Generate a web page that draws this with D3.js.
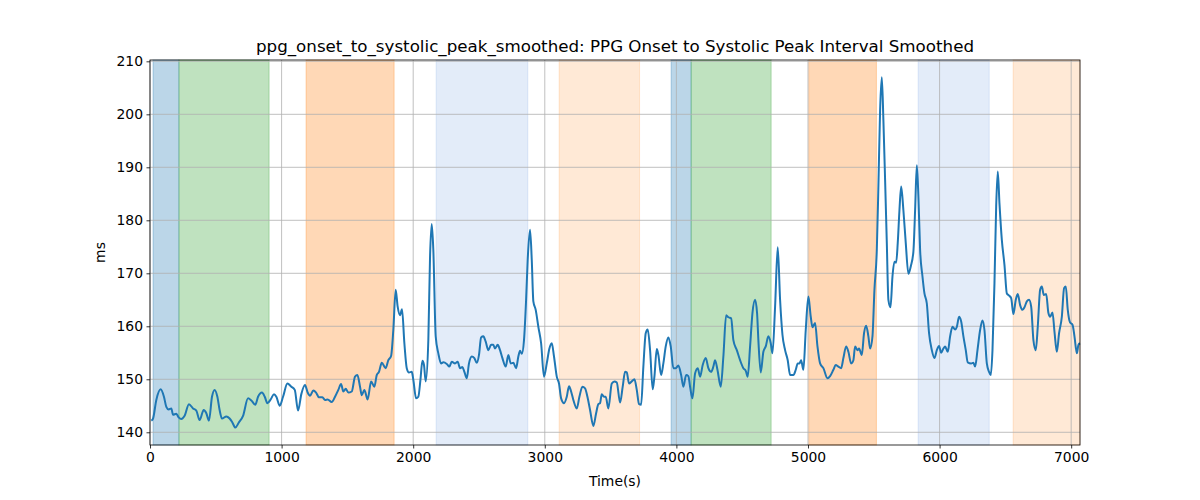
<!DOCTYPE html>
<html>
<head>
<meta charset="utf-8">
<script src="https://cdn.jsdelivr.net/npm/d3@7"></script>
<style>
  html, body { margin: 0; padding: 0; background: #fff; }
  svg { display: block; font-family: "DejaVu Sans", sans-serif; }
</style>
</head>
<body>
<svg id="chart" width="1200" height="500"></svg>
<script>
// ---- data ----
const title = "ppg_onset_to_systolic_peak_smoothed: PPG Onset to Systolic Peak Interval Smoothed";
const xLabel = "Time(s)";
const yLabel = "ms";
const xTicks = [0, 1000, 2000, 3000, 4000, 5000, 6000, 7000];
const yTicks = [140, 150, 160, 170, 180, 190, 200, 210];
const xDomain = [0, 7067];
const yDomain = [137.6, 210.25];

const bandStart = [23, 220, 1186, 2174, 3109, 3960, 4112, 5006, 5837, 6559];
const bandEnd   = [220, 905, 1855, 2871, 3720, 4112, 4720, 5520, 6377, 7067];
const bandKind  = ["blue", "green", "orange", "lightblue", "lightorange",
                   "blue", "green", "orange", "lightblue", "lightorange"];

const times = [
  10, 23, 48, 81, 106, 124, 142, 162, 175, 200, 218, 238, 263, 296, 327, 352, 377, 408, 428, 448,
  471, 491, 512, 529, 547, 580, 605, 623, 649, 674, 707, 745, 770, 800, 821, 851, 872, 892, 917, 942,
  960, 986, 1011, 1044, 1074, 1100, 1125, 1150, 1178, 1198, 1216, 1241, 1262, 1284, 1310, 1330, 1350, 1381,
  1406, 1431, 1452, 1469, 1487, 1507, 1533, 1558, 1576, 1596, 1609, 1629, 1654, 1680, 1705, 1723, 1740,
  1761, 1791, 1811, 1832, 1849, 1867, 1882, 1900, 1915, 1933, 1951, 1968, 1989, 2001, 2022, 2039, 2055,
  2070, 2082, 2095, 2115, 2128, 2141, 2153, 2171, 2191, 2212, 2229, 2255, 2275, 2293, 2318, 2338, 2356,
  2374, 2389, 2407, 2424, 2445, 2465, 2483, 2500, 2516, 2533, 2551, 2571, 2592, 2609, 2622, 2642, 2660,
  2678, 2703, 2723, 2741, 2761, 2782, 2799, 2812, 2825, 2842, 2858, 2870, 2888, 2901, 2913, 2931, 2951,
  2972, 2994, 3015, 3035, 3053, 3070, 3091, 3108, 3124, 3146, 3167, 3184, 3200, 3217, 3243, 3263, 3286,
  3306, 3324, 3344, 3369, 3390, 3407, 3420, 3433, 3450, 3463, 3483, 3509, 3529, 3547, 3572, 3592, 3610,
  3623, 3640, 3661, 3681, 3699, 3716, 3732, 3749, 3767, 3782, 3800, 3820, 3833, 3851, 3863, 3884, 3901,
  3919, 3939, 3957, 3977, 3995, 4015, 4036, 4053, 4074, 4091, 4104, 4122, 4142, 4162, 4180, 4200, 4223,
  4243, 4264, 4281, 4294, 4312, 4337, 4357, 4378, 4395, 4416, 4433, 4459, 4484, 4509, 4527, 4542, 4560,
  4578, 4598, 4613, 4623, 4641, 4661, 4679, 4699, 4717, 4730, 4750, 4770, 4788, 4806, 4826, 4846, 4864,
  4889, 4907, 4922, 4935, 4948, 4965, 4983, 5003, 5021, 5034, 5054, 5072, 5092, 5117, 5148, 5168, 5193,
  5211, 5231, 5252, 5269, 5290, 5307, 5328, 5345, 5358, 5376, 5388, 5409, 5426, 5442, 5459, 5472, 5490,
  5505, 5523, 5535, 5548, 5561, 5573, 5586, 5599, 5611, 5627, 5642, 5657, 5670, 5682, 5695, 5708, 5725,
  5743, 5763, 5781, 5801, 5814, 5827, 5839, 5852, 5870, 5885, 5903, 5920, 5941, 5961, 5979, 5996, 6012,
  6029, 6042, 6062, 6080, 6098, 6118, 6131, 6148, 6164, 6181, 6199, 6214, 6240, 6257, 6270, 6288, 6308,
  6326, 6341, 6359, 6376, 6389, 6402, 6417, 6430, 6442, 6455, 6473, 6493, 6511, 6528, 6544, 6561, 6579,
  6594, 6612, 6630, 6645, 6663, 6680, 6696, 6713, 6731, 6746, 6764, 6777, 6792, 6810, 6827, 6840, 6858,
  6873, 6891, 6908, 6929, 6946, 6959, 6974, 6992, 7010, 7025, 7043, 7055, 7067
];
const values = [
  142.2, 142.6, 146.1, 148.1, 146.7, 144.8, 144.3, 144.5, 143.3, 143.5, 142.8, 142.5, 143.1, 145.3, 144.5, 144.1, 142.3, 144.2, 143.6, 142.2,
  146.7, 148.0, 146.7, 144.2, 142.6, 143.0, 142.6, 142.0, 140.9, 141.8, 143.1, 146.4, 146.0, 145.2, 146.7, 147.5, 146.7, 145.5, 146.2, 147.2,
  146.7, 145.0, 146.7, 149.2, 148.6, 148.0, 144.1, 147.2, 148.9, 147.5, 146.9, 147.9, 147.5, 146.6, 146.6, 146.1, 146.2, 145.7,
  146.7, 148.0, 149.1, 147.7, 148.2, 147.5, 147.7, 150.5, 150.8, 148.6, 147.0, 148.0, 146.2, 149.6, 148.6, 150.8, 151.4,
  153.1, 152.1, 153.6, 154.4, 159.3, 166.9, 163.7, 162.1, 163.2, 156.8, 152.1, 151.3, 151.4, 149.9, 146.4, 146.7, 149.9,
  153.5, 152.7, 149.6, 157.4, 173.1, 179.3, 174.4, 158.1, 154.9, 153.0, 153.2, 152.9, 152.4, 153.3, 153.0, 153.3, 152.1,
  152.3, 151.4, 150.2, 153.0, 154.3, 154.0, 153.1, 154.6, 157.9, 158.1, 157.1, 155.5, 156.5, 156.5, 155.8, 156.5, 155.5,
  154.0, 152.4, 154.6, 153.0, 153.1, 152.1, 154.3, 155.4, 154.8, 157.4, 165.0, 172.5, 178.2, 172.5, 164.7, 163.1, 159.9,
  156.8, 150.5, 153.0, 155.8, 156.8, 154.3, 150.5, 149.2, 146.4, 145.5, 146.7, 148.7, 147.7, 146.1, 144.5, 146.7, 148.6,
  148.3, 146.7, 144.2, 141.2, 143.6, 145.3, 145.5, 147.2, 146.7, 146.7, 144.5, 149.2, 149.6, 149.4, 145.6, 148.6, 151.4,
  151.3, 149.2, 149.6, 150.0, 148.0, 145.3, 145.2, 152.4, 158.7, 159.4, 155.5, 148.1, 150.5, 155.7, 154.6, 150.8, 153.0,
  156.2, 157.9, 156.2, 152.1, 152.1, 152.6, 150.8, 148.6, 150.8, 150.6, 148.6, 146.4, 151.1, 152.1, 150.5, 152.7, 154.0,
  152.1, 151.4, 152.4, 153.6, 151.8, 148.6, 154.3, 162.1, 161.7, 161.5, 157.4, 155.5, 153.6, 152.1, 151.6, 150.5, 156.2,
  162.5, 165.0, 162.5, 157.4, 151.3, 155.2, 156.2, 158.1, 156.8, 154.9, 163.7, 174.9, 165.0, 158.4, 155.5, 153.6, 150.8,
  150.8, 151.8, 153.0, 153.0, 153.6, 151.8, 159.3, 165.6, 161.8, 159.8, 160.6, 156.2, 153.0, 152.1, 150.2, 150.6, 151.8,
  152.7, 152.4, 152.1, 154.0, 156.2, 155.2, 153.0, 153.6, 156.2, 155.5, 155.8, 154.6, 158.7, 160.1, 158.1, 155.8, 158.1,
  166.9, 174.4, 186.4, 200.8, 207.0, 198.9, 187.6, 175.7, 165.0, 163.6, 169.4, 172.2, 172.0, 175.7, 181.9, 186.4, 181.9,
  175.7, 169.9, 171.3, 174.1, 181.9, 190.4, 184.5, 174.4, 169.4, 166.2, 164.3, 158.7, 155.5, 154.0, 155.5, 156.3, 155.0,
  155.8, 156.2, 155.2, 158.1, 159.9, 159.4, 159.9, 161.8, 160.9, 158.1, 155.5, 153.2, 153.0, 153.1, 152.4, 155.5, 159.3,
  161.1, 159.3, 153.0, 151.4, 150.8, 155.5, 168.1, 182.6, 189.2, 183.2, 176.3, 171.6, 166.2, 165.8, 165.3, 162.3, 165.0,
  166.1, 164.0, 163.1, 163.6, 164.7, 165.0, 163.7, 157.4, 155.5, 159.9, 166.9, 167.5, 165.9, 166.1, 162.5, 161.8, 162.6,
  159.0, 155.2, 158.7, 161.8, 167.2, 167.5, 163.1, 160.7, 160.3, 158.1, 154.9, 156.5, 156.8
];

// ---- layout ----
const W = 1200, H = 500;
const m = { left: 150, right: 120, top: 60, bottom: 55 };
const svg = d3.select("#chart");

const x = d3.scaleLinear().domain(xDomain).range([m.left, W - m.right]);
const y = d3.scaleLinear().domain(yDomain).range([H - m.bottom, m.top]);

const bandColor = {
  blue: "rgba(31,119,180,0.3)",
  green: "rgba(44,160,44,0.3)",
  orange: "rgba(255,127,14,0.3)",
  lightblue: "rgba(60,120,210,0.14)",
  lightorange: "rgba(255,127,14,0.17)"
};

const bands = bandStart.map((s, i) => ({ s, e: bandEnd[i], k: bandKind[i] }));
svg.append("g").selectAll("rect").data(bands).join("rect")
  .attr("x", d => x(d.s))
  .attr("width", d => x(d.e) - x(d.s))
  .attr("y", m.top)
  .attr("height", H - m.bottom - m.top)
  .attr("fill", d => bandColor[d.k])
  .attr("stroke", d => bandColor[d.k])
  .attr("stroke-width", 1);

// grid
const grid = svg.append("g").attr("stroke", "#b0b0b0").attr("stroke-width", 0.8);
grid.selectAll("line.v").data(xTicks).join("line").attr("class", "v")
  .attr("x1", d => x(d)).attr("x2", d => x(d))
  .attr("y1", m.top).attr("y2", H - m.bottom);
grid.selectAll("line.h").data(yTicks).join("line").attr("class", "h")
  .attr("y1", d => y(d)).attr("y2", d => y(d))
  .attr("x1", m.left).attr("x2", W - m.right);

// line
const pts = times.map((t, i) => [t, values[i]]);
svg.append("path")
  .datum(pts)
  .attr("fill", "none")
  .attr("stroke", "#1f77b4")
  .attr("stroke-width", 2)
  .attr("stroke-linejoin", "round")
  .attr("d", d3.line().x(d => x(d[0])).y(d => y(d[1])).curve(d3.curveMonotoneX));

// axes
const xAxis = svg.append("g")
  .attr("transform", `translate(0,${H - m.bottom})`)
  .call(d3.axisBottom(x).tickValues(xTicks).tickSizeOuter(0).tickSize(3.5).tickPadding(3.5).tickFormat(d3.format("d")));
const yAxis = svg.append("g")
  .attr("transform", `translate(${m.left},0)`)
  .call(d3.axisLeft(y).tickValues(yTicks).tickSizeOuter(0).tickSize(3.5).tickPadding(3.5).tickFormat(d3.format("d")));
[xAxis, yAxis].forEach(g => {
  g.select(".domain").remove();
  g.selectAll("text").attr("font-size", "13.9px").attr("fill", "#000").attr("font-family", "DejaVu Sans, sans-serif");
  g.selectAll("line").attr("stroke", "#000").attr("stroke-width", 0.8);
});

// spines
svg.append("rect")
  .attr("x", m.left).attr("y", m.top)
  .attr("width", W - m.left - m.right).attr("height", H - m.top - m.bottom)
  .attr("fill", "none").attr("stroke", "#000").attr("stroke-width", 0.8);

// labels
svg.append("text").attr("x", (m.left + W - m.right) / 2).attr("y", 52)
  .attr("text-anchor", "middle").attr("font-size", "16.7px").text(title);
svg.append("text").attr("x", (m.left + W - m.right) / 2).attr("y", 486)
  .attr("text-anchor", "middle").attr("font-size", "13.9px").text(xLabel);
svg.append("text").attr("transform", `translate(105,${(m.top + H - m.bottom) / 2}) rotate(-90)`)
  .attr("text-anchor", "middle").attr("font-size", "13.9px").text(yLabel);
</script>
</body>
</html>
